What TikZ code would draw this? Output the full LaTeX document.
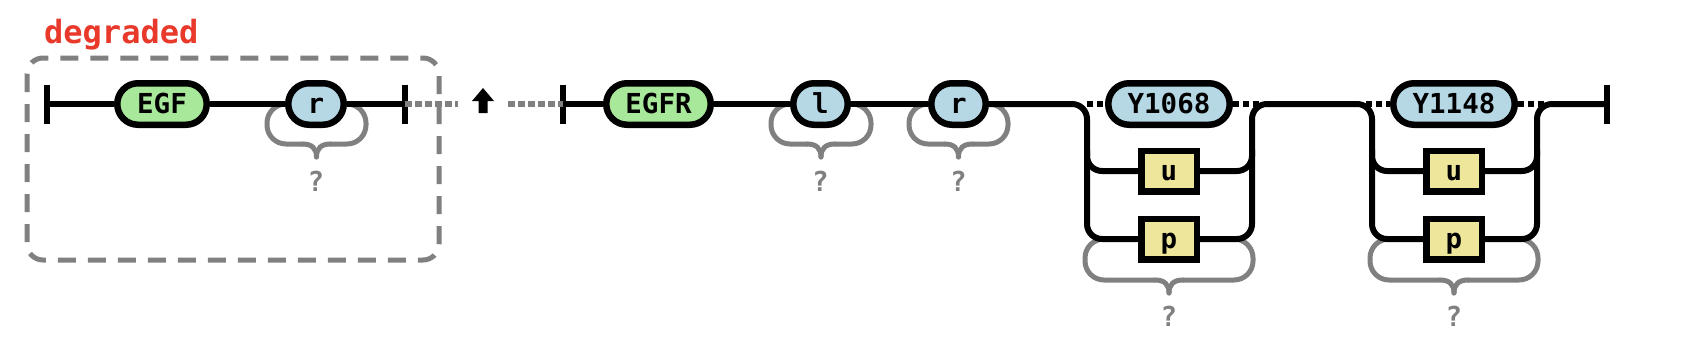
\documentclass[tikz,border=0pt]{standalone}
\usepackage{fontspec}
\newfontfamily\dmono{DejaVu Sans Mono}
\usetikzlibrary{calc}
\pgfdeclarelayer{bg}
\pgfsetlayers{bg,main}
\definecolor{ngreen}{HTML}{A8E89A}
\definecolor{nblue}{HTML}{B5D8E4}
\definecolor{nyellow}{HTML}{EEE69A}
\definecolor{dred}{HTML}{E8392B}
\definecolor{mgray}{HTML}{808080}
\tikzset{
  nodetext/.style={inner sep=0pt, text height=19.7pt, text depth=0pt,
    font={\dmono\bfseries\fontsize{27.5}{27.5}\selectfont}},
  pill/.style={nodetext, draw=black, line width=6.5pt, rounded corners=20.75pt,
    minimum height=41.5pt, text=black},
  lit/.style={pill, fill=ngreen},
  sym/.style={pill, fill=nblue},
  boxn/.style={nodetext, draw=black, line width=6.5pt, fill=nyellow,
    minimum width=55.5pt, minimum height=40.5pt, text=black},
  rail/.style={draw=black, line width=6pt},
  bar/.style={draw=black, line width=6pt},
  dotb/.style={draw=black, line width=6pt, dash pattern=on 6pt off 4pt},
  dotg/.style={draw=mgray, line width=6pt, dash pattern=on 6.5pt off 3.5pt},
  brc/.style={draw=mgray, line width=5pt, line cap=round},
  qm/.style={nodetext, text=mgray},
  degbox/.style={draw=mgray, line width=5pt, dash pattern=on 18pt off 12pt, rounded corners=16pt},
}
% grey brace: xL, xR, yT, yB, yP
\newcommand\grbrace[5]{%
  \pgfmathsetmacro\bm{(#1+#2)/2}%
  \draw[brc,rounded corners=19pt] ({#1+19},#3) -- (#1,#3) -- (#1,#4) -- ({\bm-14},#4);
  \draw[brc] ({\bm-14},#4) .. controls ({\bm-5},#4) and (\bm,{#4+4}) .. (\bm,#5);
  \draw[brc,rounded corners=19pt] ({#2-19},#3) -- (#2,#3) -- (#2,#4) -- ({\bm+14},#4);
  \draw[brc] ({\bm+14},#4) .. controls ({\bm+5},#4) and (\bm,{#4+4}) .. (\bm,#5);
}
\begin{document}
\begin{tikzpicture}[x=1pt,y=-1pt]
\useasboundingbox (0,0) rectangle (1708,348);

% degraded region
\node[anchor=base west, inner sep=0pt, text=dred,
  font={\dmono\bfseries\fontsize{32}{32}\selectfont}] (deg) at (44,43) {degraded};
\draw[degbox] (27,58) rectangle (439,260);

% bars
\coordinate (s1) at (47,104);
\coordinate (e1) at (405,104);
\coordinate (s2) at (563,104);
\coordinate (e2) at (1607,104);
\foreach \b in {s1,e1,s2,e2}{\draw[bar] ($(\b)+(0,-19.5)$) -- ($(\b)+(0,19.5)$);}

% nodes
\node[lit, minimum width=89.5pt] (egf) at (162,104) {EGF};
\node[sym, minimum width=55.5pt] (r1) at (316,104) {r};
\node[lit, minimum width=104.5pt] (egfr) at (658.5,104) {EGFR};
\node[sym, minimum width=54.5pt] (l) at (820.5,104) {l};
\node[sym, minimum width=54.5pt] (r2) at (958.5,104) {r};
\node[sym, minimum width=121.5pt] (y1) at (1169,104) {Y1068};
\node[boxn] (u1) at (1169,171) {u};
\node[boxn] (p1) at (1169,239) {p};
\node[sym, minimum width=121.5pt] (y2) at (1454,104) {Y1148};
\node[boxn] (u2) at (1454,171) {u};
\node[boxn] (p2) at (1454,239) {p};

% question marks
\node[qm] (q1) at (316,182) {?};
\node[qm] (q2) at (820.5,182) {?};
\node[qm] (q3) at (958.5,182) {?};
\node[qm] (q4) at (1169,317) {?};
\node[qm] (q5) at (1454,317) {?};

% up arrow
\coordinate (arr) at (483,104);
\fill[black] (483,88) -- (494,101) -- (487.5,101) -- (487.5,113) -- (478.5,113) -- (478.5,101) -- (472,101) -- cycle;
\coordinate (d1) at (458,104);
\coordinate (d2) at (508,104);

\begin{pgfonlayer}{bg}
  \grbrace{267}{366}{104}{144}{157}
  \grbrace{771}{871}{104}{144}{157}
  \grbrace{909}{1008}{104}{144}{157}
  \grbrace{1085}{1253}{239}{280}{293}
  \grbrace{1370}{1538}{239}{280}{293}
\end{pgfonlayer}

% main line
\draw[rail] (s1) -- (egf.west);
\draw[rail] (egf.east) -- (r1.west);
\draw[rail] (r1.east) -- (e1);
\draw[dotg] (e1) -- (d1);
\draw[dotg] (d2) -- (s2);
\draw[rail] (s2) -- (egfr.west);
\draw[rail] (egfr.east) -- (l.west);
\draw[rail] (l.east) -- (r2.west);

% choice 1
\draw[dotb] (1087,104) -- (y1.west);
\draw[dotb] (y1.east) -- (1259,104);
\draw[rail, rounded corners=15pt] (r2.east) -- (1087,104) -- (1087,239) -- (p1.west);
\draw[rail, rounded corners=15pt] (1087,150) -- (1087,171) -- (u1.west);
\draw[rail, rounded corners=15pt] (u1.east) -- (1252,171) -- (1252,150);
\draw[rail, rounded corners=15pt] (p1.east) -- (1252,239) -- (1252,104) -- (1372,104) -- (1372,239) -- (p2.west);

% choice 2
\draw[dotb] (1366,104) -- (y2.west);
\draw[dotb] (y2.east) -- (1544,104);
\draw[rail, rounded corners=15pt] (1372,150) -- (1372,171) -- (u2.west);
\draw[rail, rounded corners=15pt] (u2.east) -- (1537,171) -- (1537,150);
\draw[rail, rounded corners=15pt] (p2.east) -- (1537,239) -- (1537,104) -- (e2);
\end{tikzpicture}
\end{document}
